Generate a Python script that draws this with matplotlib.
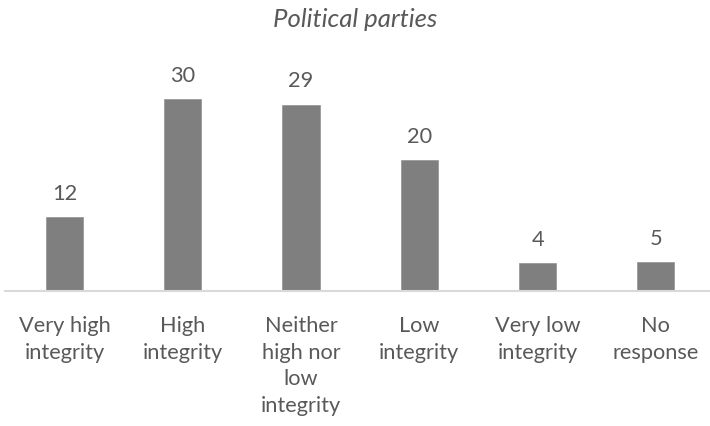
import numpy as np
import matplotlib.pyplot as plt

plt.rcParams['font.family'] = ['Lato', 'DejaVu Sans']

# chart data (bar heights, labels as printed)
categories = ["Very high\nintegrity", "High\nintegrity", "Neither\nhigh nor\nlow\nintegrity",
              "Low\nintegrity", "Very low\nintegrity", "No\nresponse"]
values = [11.5, 30.0, 29.1, 20.4, 4.3, 4.5]
value_labels = ["12", "30", "29", "20", "4", "5"]

text_col = '#595959'
bar_col = '#7f7f7f'

fig = plt.figure(figsize=(7.1, 4.26), dpi=100)
# axes placed in pixel terms: baseline at y=291, left edge ~5px
W, H = 710, 426
left, right = 5.35, 715
bottom, top = 291, 67
ax = fig.add_axes([left / W, 1 - bottom / H, (right - left) / W, (bottom - top) / H])

x = np.arange(len(categories))
bars = ax.bar(x, values, width=0.315, color=bar_col, edgecolor='#9a9a9a', linewidth=0.6)
ax.set_xlim(-0.5, len(categories) - 0.5)
ax.set_ylim(0, 35)

for xi, v, lab in zip(x, values, value_labels):
    ax.annotate(lab, (xi, v), xytext=(0, 12.5), textcoords='offset points',
                ha='center', va='baseline', fontsize=15.7, color=text_col)

for s in ['top', 'right', 'left']:
    ax.spines[s].set_visible(False)
ax.spines['bottom'].set_color('#d9d9d9')
ax.spines['bottom'].set_linewidth(1.5)
ax.set_yticks([])
ax.set_xticks(x)
ax.set_xticklabels(categories, fontsize=15.7, color=text_col, linespacing=1.41)
ax.tick_params(axis='x', length=0, pad=18)

fig.text(0.5, 1 - 27 / H, "Political parties", ha='center', va='baseline',
         fontsize=18.5, style='italic', color=text_col)

fig.savefig('out.png', dpi=100)
